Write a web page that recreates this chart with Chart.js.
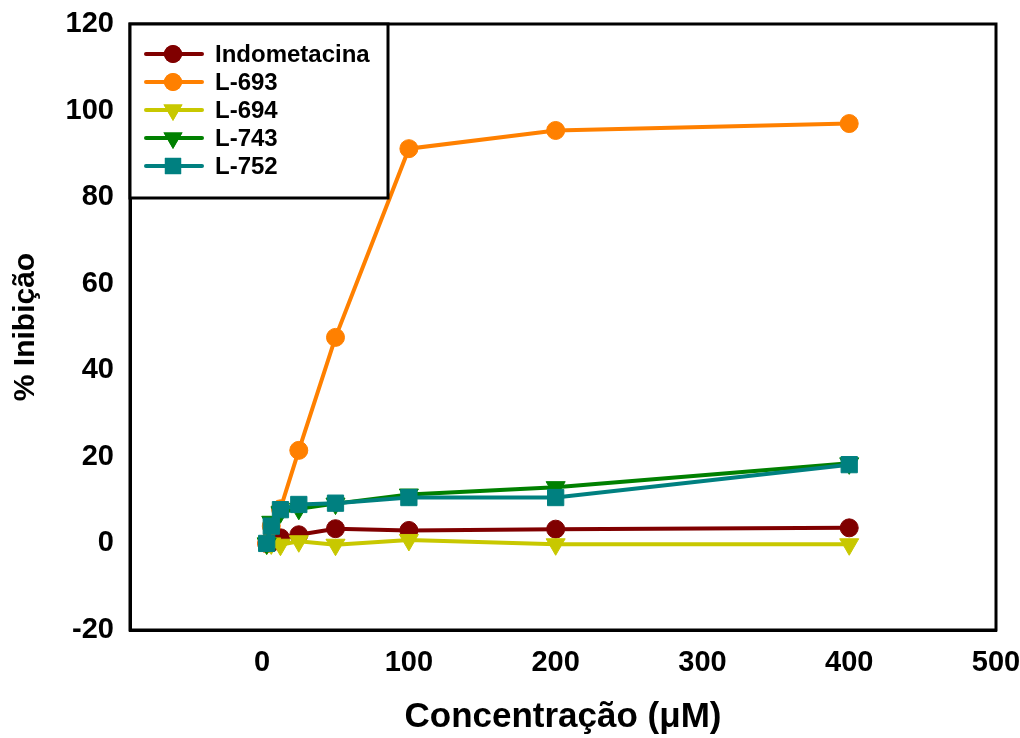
<!DOCTYPE html>
<html>
<head>
<meta charset="utf-8">
<script src="https://cdn.jsdelivr.net/npm/chart.js@4.4.1/dist/chart.umd.min.js"></script>
<style>
  html, body { margin: 0; padding: 0; background: #fff; }
</style>
</head>
<body>
<canvas id="myChart" width="1020" height="738"></canvas>
<script>
// concentrations (uM), two-fold dilution series
const concentrations = [3.125, 6.25, 12.5, 25, 50, 100, 200, 400];

const indometacina = [0, 0.2, 1.3, 2.0, 3.4, 3.0, 3.3, 3.6];
const l693 = [0, 4, 8, 21.5, 47.6, 91.2, 95.4, 97.0];
const l694 = [0, 0, -0.3, 0.5, -0.3, 0.8, -0.2, -0.2];
const l743 = [0, 5, 7.2, 8, 9.2, 11.3, 13, 18.5];
const l752 = [0, 4, 7.8, 9, 9.3, 10.6, 10.6, 18.2];

const xTickValues = [0, 100, 200, 300, 400, 500];
const yTickValues = [-20, 0, 20, 40, 60, 80, 100, 120];

const FONT = '"Liberation Sans", Arial, sans-serif';

const toPoints = values => values.map((v, i) => ({ x: concentrations[i], y: v }));

const makeSeries = (label, values, color, style, radius, order) => ({
    label: label,
    data: toPoints(values),
    borderColor: color,
    backgroundColor: color,
    borderWidth: 4,
    pointStyle: style,
    pointRadius: radius,
    pointHoverRadius: radius,
    pointBorderWidth: 1,
    pointRotation: style === 'triangle' ? 180 : 0,
    tension: 0,
    order: order
});

// plot frame + legend box drawn inside the chart area
const frameAndLegend = {
    id: 'frameAndLegend',
    afterDatasetsDraw(chart) {
        const ctx = chart.ctx;
        const area = chart.chartArea;
        ctx.save();
        ctx.strokeStyle = '#000';
        ctx.lineWidth = 3;
        ctx.strokeRect(area.left, area.top, area.right - area.left, area.bottom - area.top);

        // legend box
        const bx = area.left, by = area.top, bw = 258, bh = 174;
        ctx.fillStyle = '#fff';
        ctx.fillRect(bx, by, bw, bh);
        ctx.strokeRect(bx, by, bw, bh);

        ctx.font = 'bold 24px ' + FONT;
        ctx.textBaseline = 'middle';
        chart.data.datasets.forEach((ds, i) => {
            const y = by + 30 + i * 28;
            ctx.strokeStyle = ds.borderColor;
            ctx.lineWidth = 4;
            ctx.lineCap = 'round';
            ctx.beginPath();
            ctx.moveTo(bx + 16, y);
            ctx.lineTo(bx + 72, y);
            ctx.stroke();
            ctx.fillStyle = ds.backgroundColor;
            Chart.helpers.drawPoint(ctx, {
                pointStyle: ds.pointStyle,
                radius: ds.pointRadius,
                rotation: ds.pointRotation,
                borderWidth: 0
            }, bx + 43, y);
            ctx.fill();
            ctx.fillStyle = '#000';
            ctx.fillText(ds.label, bx + 85, y + 1);
        });
        ctx.restore();
    }
};

const ctx = document.getElementById('myChart').getContext('2d');

new Chart(ctx, {
    type: 'line',
    data: {
        datasets: [
            makeSeries('Indometacina', indometacina, '#800000', 'circle', 9, 4),
            makeSeries('L-693', l693, '#FF8000', 'circle', 9, 3),
            makeSeries('L-694', l694, '#C8C800', 'triangle', 11, 2),
            makeSeries('L-743', l743, '#008000', 'triangle', 11, 1),
            makeSeries('L-752', l752, '#008080', 'rect', 11.5, 0)
        ]
    },
    options: {
        responsive: false,
        devicePixelRatio: 1,
        animation: false,
        layout: {
            padding: { top: 24, right: 24, left: 0, bottom: 0 }
        },
        scales: {
            x: {
                type: 'linear',
                min: -90,
                max: 500,
                afterBuildTicks: scale => { scale.ticks = xTickValues.map(v => ({ value: v })); },
                afterFit: scale => {
                    scale.height = 108;
                    scale.paddingLeft = 0;
                    scale.paddingRight = 0;
                },
                grid: { display: false, drawTicks: false },
                border: { display: true, color: '#000', width: 3 },
                ticks: {
                    color: '#000',
                    padding: 16,
                    maxRotation: 0,
                    font: { family: FONT, size: 29, weight: 'bold' }
                },
                title: {
                    display: true,
                    text: 'Concentração (μM)',
                    color: '#000',
                    padding: { top: 10, bottom: 0 },
                    font: { family: FONT, size: 35, weight: 'bold' }
                }
            },
            y: {
                min: -20,
                max: 120,
                afterBuildTicks: scale => { scale.ticks = yTickValues.map(v => ({ value: v })); },
                afterFit: scale => {
                    scale.width = 130;
                    scale.paddingTop = 0;
                    scale.paddingBottom = 0;
                },
                grid: { display: false, drawTicks: false },
                border: { display: true, color: '#000', width: 3 },
                ticks: {
                    color: '#000',
                    padding: 16,
                    font: { family: FONT, size: 29, weight: 'bold' }
                },
                title: {
                    display: true,
                    text: '% Inibição',
                    color: '#000',
                    padding: { top: 8, bottom: 0 },
                    font: { family: FONT, size: 30, weight: 'bold' }
                }
            }
        },
        plugins: {
            legend: { display: false },
            tooltip: { enabled: false }
        }
    },
    plugins: [frameAndLegend]
});
</script>
</body>
</html>
